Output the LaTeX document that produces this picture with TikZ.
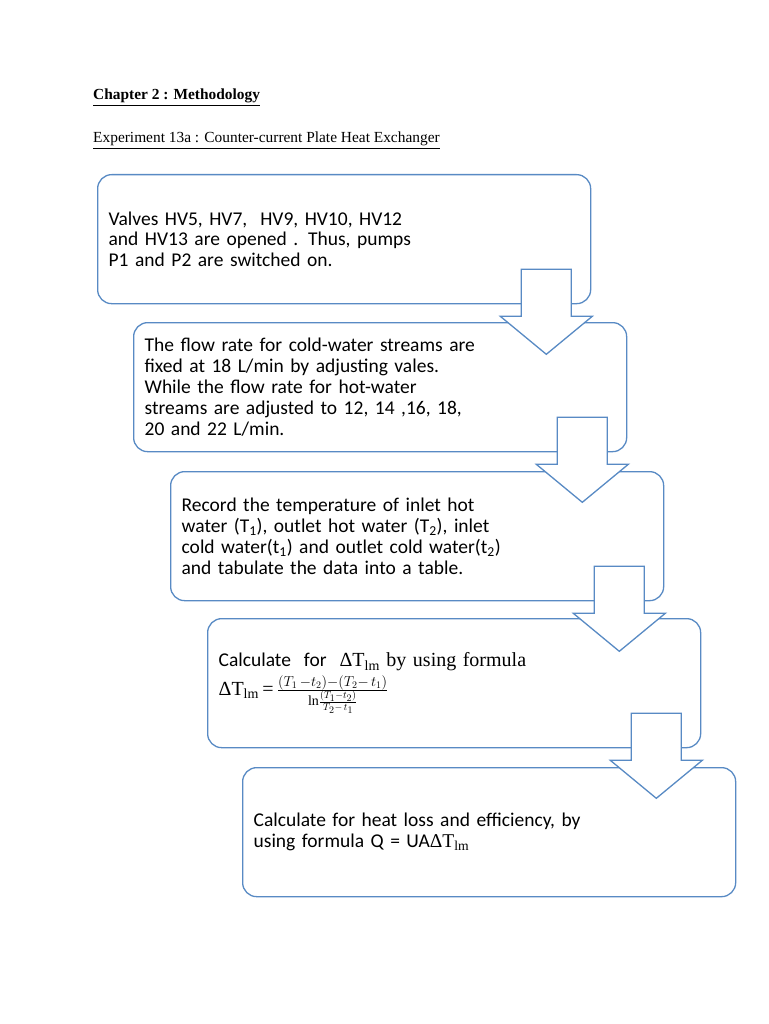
\documentclass[tikz,border=0pt]{standalone}
\usepackage{fontspec}
\setmainfont{Carlito}
\newfontfamily\timesfont{Liberation Serif}
\usetikzlibrary{calc}
\definecolor{boxblue}{RGB}{88,138,196}
\newcommand{\dtlm}{{\timesfont ΔT\textsubscript{lm}}}
\begin{document}
\begin{tikzpicture}[x=1pt, y=-1pt,
  stepbox/.style={draw=boxblue, line width=1.3pt, rounded corners=14pt,
    fill=white, anchor=north west, text width=471pt, inner xsep=11pt,
    minimum height=129pt, align=left,
    font=\fontsize{19.5}{20.8}\selectfont},
  downarrow/.style={draw=boxblue, line width=1.3pt, fill=white,
    line join=miter},
  heading/.style={anchor=base west, inner sep=0pt,
    font=\timesfont\fontsize{15.4}{18}\selectfont}]
  \fill[white] (0,0) rectangle (768,1024);
  \useasboundingbox (0,0) rectangle (768,1024);
  % 标题
  \node[heading] (title) at (93,100)
    {\bfseries\underline{Chapter 2 : Methodology}};
  \node[heading] (subtitle) at (93,143)
    {\underline{Experiment 13a : Counter-current Plate Heat Exchanger}};
  % 步骤框
  \node[stepbox] (b1) at (97,174)
    {Valves HV5, HV7,\ \ HV9, HV10, HV12\\
     and HV13 are opened . Thus, pumps\\
     P1 and P2 are switched on.};
  \node[stepbox] (b2) at (133,322)
    {The flow rate for cold-water streams are\\
     fixed at 18 L/min by adjusting vales.\\
     While the flow rate for hot-water\\
     streams are adjusted to 12, 14 ,16, 18,\\
     20 and 22 L/min.};
  \node[stepbox] (b3) at (170,471)
    {Record the temperature of inlet hot\\
     water (T\textsubscript{1}), outlet hot water (T\textsubscript{2}), inlet\\
     cold water(t\textsubscript{1}) and outlet cold water(t\textsubscript{2})\\
     and tabulate the data into a table.};
  \node[stepbox] (b4) at (207,618)
    {Calculate\ \ for\ \ {\fontsize{20}{22}\selectfont\dtlm{\timesfont\ by using formula}}\\[3pt]
     {\fontsize{20}{22}\selectfont\dtlm{\timesfont\,=\,}%
     $\frac{(T_1\,-t_2)-(T_2-\,t_1)}{\mbox{\fontsize{14}{16}\timesfont\selectfont ln}\frac{(T_1-t_2)}{T_2-\,t_1}}$}};
  \node[stepbox] (b5) at (242,767)
    {Calculate for heat loss and efficiency, by\\
     using formula Q = UA\dtlm};
  % 箭头
  \foreach \a in {1,...,4}
    \draw[downarrow] ($(b\a.south east)+(-70,-35)$) -- ++(50,0) -- ++(0,47)
      -- ++(21,0) -- ++(-46,38) -- ++(-46,-38) -- ++(21,0) -- cycle;
\end{tikzpicture}
\end{document}
